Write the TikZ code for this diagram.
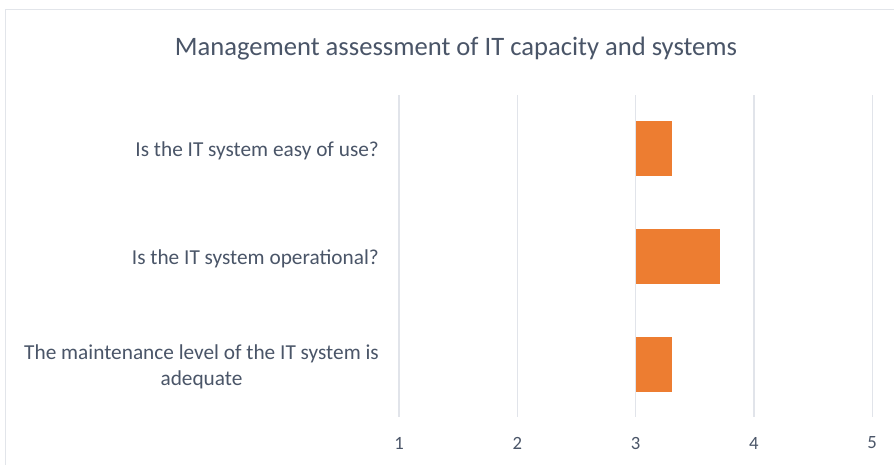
\documentclass[tikz,border=0pt]{standalone}
\usepackage{fontspec}
\setmainfont{Carlito}
\definecolor{txt}{HTML}{4A5568}
\definecolor{grid}{HTML}{E1E4EA}
\definecolor{bar}{HTML}{ED7D31}
\definecolor{frame}{HTML}{E2E5EA}
\begin{document}
\begin{tikzpicture}[x=1pt,y=-1pt,
  gridline/.style={draw=grid,line width=1.3pt},
  barbox/.style={fill=bar,draw=none},
  catlabel/.style={anchor=east,align=center,text=txt,font=\fontsize{21.3}{26}\selectfont,inner sep=0pt},
  ticklabel/.style={text=txt,font=\fontsize{18.7}{20}\selectfont,inner sep=0pt},
  titlelabel/.style={text=txt,font=\fontsize{26.6}{30}\selectfont,inner sep=0pt}]
\useasboundingbox (0,0) rectangle (894,464);
\fill[white] (0,0) rectangle (894,464);
\draw[frame,line width=1pt] (5,470) -- (5,9) -- (900,9);
\node[titlelabel] (title) at (456,48.5) {Management assessment of IT capacity and systems};
% grid
\foreach \i/\x in {1/399,2/517.3,3/635.6,4/753.9,5/872.2}{
  \coordinate (gt\i) at (\x,95);
  \coordinate (gb\i) at (\x,417);
  \draw[gridline] (gt\i) -- (gb\i);
  \node[ticklabel] (t\i) at (\x,443) {\i};
}
% bars
\fill[barbox] (635.6,121) rectangle (672.3,176);
\fill[barbox] (635.6,229) rectangle (719.6,284);
\fill[barbox] (635.6,337) rectangle (672.3,392);
% labels
\node[catlabel] (c1) at (379,150.5) {Is the IT system easy of use?};
\node[catlabel] (c2) at (379,258.5) {Is the IT system operational?};
\node[catlabel] (c3) at (379,366.5) {The maintenance level of the IT system is\\adequate};
\end{tikzpicture}
\end{document}
